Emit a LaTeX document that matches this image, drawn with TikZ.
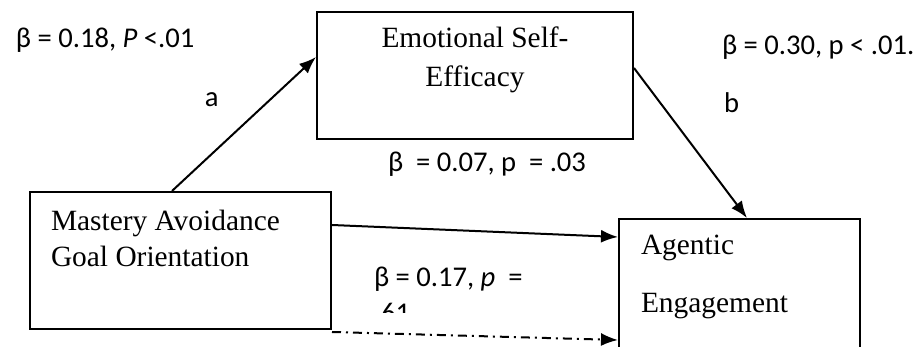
\documentclass[tikz,border=0pt]{standalone}
\usepackage{fontspec}
\setmainfont{Liberation Serif}
\newfontfamily\lblfont{Carlito}
\usetikzlibrary{arrows.meta}
\begin{document}
\begin{tikzpicture}[x=0.5pt, y=-0.5pt, line width=1pt,
	box/.style={draw, rectangle, inner sep=0pt},
	boxtext/.style={inner sep=0pt, font=\fontsize{14.7}{19.5}\selectfont},
	lbl/.style={inner sep=0pt, anchor=base west, font=\lblfont\fontsize{14.3}{17}\selectfont},
	arr/.style={-{Latex[length=8.5pt, width=6.5pt]}},
	dashdot/.style={dash pattern=on 4.5pt off 2.5pt on 1pt off 2.5pt}]
	\useasboundingbox (0,0) rectangle (918,347);
	\clip (0,0) rectangle (918,347);
	\node[box, minimum width=158pt, minimum height=63.5pt] (ese) at (475,75.5) {};
	\node[box, minimum width=150.5pt, minimum height=68.5pt] (mago) at (180.5,260.5) {};
	\node[box, minimum width=120.5pt, minimum height=80.5pt] (ae) at (739.5,299.5) {};
	\node[boxtext, anchor=base, align=center] (esetxt) at (475,87) {Emotional Self-\\Efficacy};
	\node[boxtext, anchor=base west, align=left, font=\fontsize{14.7}{18}\selectfont] (magotxt) at (50,267) {Mastery Avoidance\\Goal Orientation};
	\node[boxtext, anchor=base west, align=left, font=\fontsize{14.7}{29}\selectfont] (aetxt) at (640,313) {Agentic\\Engagement};
	\draw[arr] ([xshift=-4.25pt]mago.north) -- ([yshift=9.25pt]ese.west);
	\draw[arr] ([yshift=3.75pt]ese.east) -- ([xshift=3.75pt]ae.north);
	\draw[arr] ([yshift=17.75pt]mago.east) -- ([yshift=31.25pt]ae.west);
	\draw[arr, dashdot] ([yshift=-1pt]mago.south east) -- ([yshift=-20.25pt]ae.west);
	\node[lbl] (la) at (15,48) {β = 0.18, \textit{P} <.01};
	\node[lbl] (a) at (204,107) {a};
	\node[lbl] (lb) at (721,55) {β = 0.30, p < .01.};
	\node[lbl] (b) at (723,113) {b};
	\node[lbl] (lc) at (387,172) {β\ \ = 0.07, p\ \ = .03};
	\node[lbl] (ld) at (373,287) {β = 0.17, \textit{p}\ \ =};
	\begin{scope}
		\clip (360,295) rectangle (420,313);
		\node[lbl] (ldd) at (380,323) {61};
	\end{scope}
\end{tikzpicture}
\end{document}
